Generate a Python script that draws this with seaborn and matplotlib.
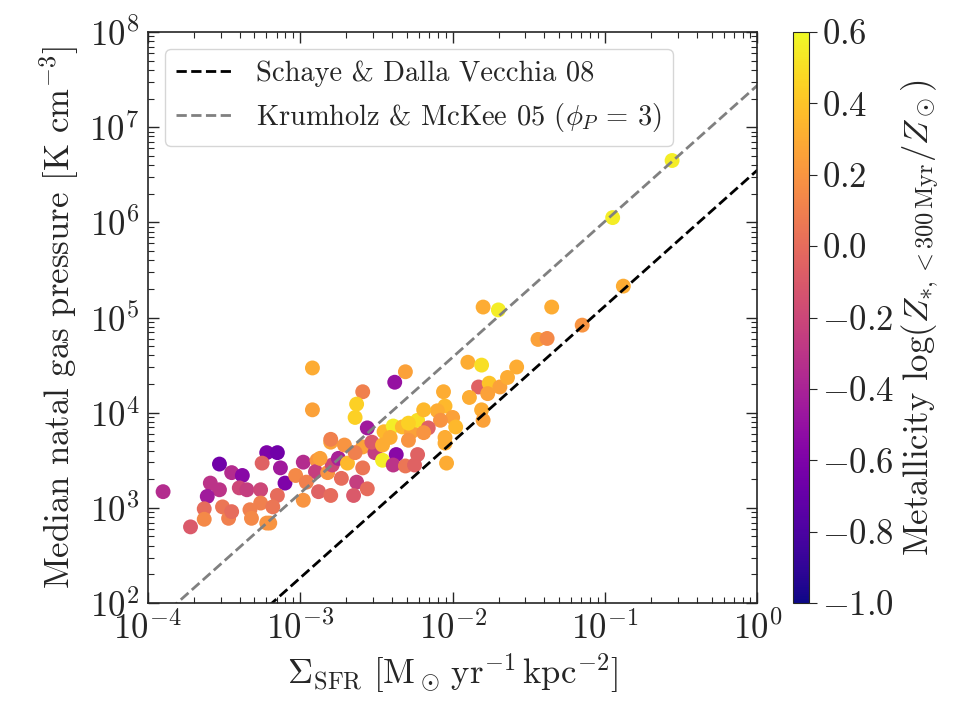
import numpy as np
import pandas as pd
import seaborn as sns
import matplotlib
matplotlib.use("Agg")
import matplotlib.pyplot as plt
from matplotlib.colors import Normalize
from matplotlib.cm import ScalarMappable
from matplotlib.ticker import FuncFormatter

# log10 of Sigma_SFR [Msun/yr/kpc^2]
log_sigma_sfr = [
    -3.90, -3.72, -3.53, -3.45, -3.38, -3.59, -3.53, -3.61, -3.40, -3.35,
    -3.26, -3.22, -3.25, -3.63, -3.63, -3.51, -3.47, -3.45, -3.33, -3.32,
    -3.26, -3.22, -3.15, -3.13, -3.10, -3.03, -2.98, -2.89, -2.90, -2.82,
    -2.96, -2.88, -2.80, -2.98, -3.15, -3.18, -3.20, -2.79, -2.73, -2.63,
    -2.56, -2.65, -2.75, -2.69, -2.59, -2.80, -2.71, -2.59, -2.51, -2.46,
    -2.64, -2.59, -2.63, -2.64, -2.56, -2.80, -2.53, -2.45, -2.39, -2.41,
    -2.33, -2.27, -2.23, -2.29, -2.46, -2.37, -2.39, -2.31, -2.25, -2.23,
    -2.87, -2.92, -2.92, -2.31, -2.38, -1.90, -1.81, -1.83, -1.76, -1.69,
    -1.64, -1.77, -1.89, -2.06, -2.05, -2.10, -2.19, -2.29, -2.00, -2.08,
    -2.16, -1.98, -1.81, -1.80, -2.19, -2.05, -2.05, -2.04, -1.80, -1.70,
    -1.35, -1.44, -1.38, -1.15, -0.56, -0.95, -0.88, -1.58,
]

# log10 of median natal gas pressure [K cm^-3]
log_pressure = [
    3.17, 2.80, 3.46, 3.37, 3.34, 3.26, 3.19, 3.12, 3.21, 3.19,
    3.19, 3.58, 3.47, 2.99, 2.88, 3.01, 2.89, 2.96, 2.98, 2.89,
    3.05, 2.84, 3.58, 3.42, 3.26, 3.34, 3.48, 3.50, 3.38, 3.37,
    3.27, 3.17, 3.13, 3.08, 3.13, 3.01, 2.84, 3.45, 3.31, 3.27,
    3.20, 3.13, 3.52, 3.47, 3.42, 3.69, 3.66, 3.64, 3.58, 3.50,
    3.58, 4.22, 4.09, 3.95, 3.84, 3.72, 3.69, 3.80, 3.86, 3.74,
    3.85, 3.80, 3.92, 3.71, 3.66, 3.56, 3.45, 3.44, 3.45, 3.56,
    3.52, 4.47, 4.03, 4.43, 4.32, 4.53, 4.50, 4.27, 4.31, 4.27,
    4.37, 4.20, 4.16, 4.22, 4.07, 4.02, 4.03, 3.89, 3.95, 3.92,
    3.84, 3.85, 4.03, 3.92, 3.79, 3.74, 3.68, 3.47, 5.11, 5.08,
    5.11, 4.77, 4.78, 4.92, 6.65, 6.05, 5.33, 4.48,
]

# metallicity log(Z*/Zsun), from the marker colours
metallicity = [
    -0.35, -0.10, -0.65, -0.35, -0.55, -0.30, -0.30, -0.45, -0.20, -0.25,
    -0.20, -0.60, -0.05, 0.00, 0.15, 0.05, 0.10, 0.00, 0.10, 0.15,
    0.10, 0.20, -0.65, -0.45, -0.60, 0.15, -0.35, 0.20, -0.25, 0.20,
    0.10, -0.05, 0.00, 0.20, 0.00, 0.05, 0.20, -0.20, 0.00, -0.25,
    0.00, -0.10, -0.40, 0.35, 0.05, 0.25, 0.20, 0.25, -0.25, 0.55,
    0.10, 0.10, 0.45, 0.45, -0.45, 0.10, -0.10, 0.35, 0.55, 0.30,
    0.35, 0.25, 0.50, 0.20, 0.30, -0.55, -0.30, 0.05, -0.05, -0.05,
    0.25, 0.30, 0.25, 0.25, -0.50, 0.30, 0.50, -0.05, 0.40, 0.25,
    0.30, 0.25, 0.30, 0.30, 0.35, 0.30, 0.35, 0.45, 0.25, 0.20,
    -0.05, 0.35, 0.30, 0.25, 0.20, 0.30, 0.30, 0.30, 0.30, 0.55,
    0.30, 0.25, 0.15, 0.20, 0.55, 0.55, 0.30, 0.30,
]

# model relations: P = 10**amp * Sigma_SFR**(1/0.7)
slope = 1 / 0.7
log_amp_schaye = 6.55
log_amp_krumholz = 7.44

df = pd.DataFrame({
    "sfr": 10 ** np.array(log_sigma_sfr),
    "pressure": 10 ** np.array(log_pressure),
    "Z": metallicity,
})

sns.set_style("ticks")
plt.rcParams["font.family"] = "serif"
plt.rcParams["font.serif"] = ["cmr10", "DejaVu Serif"]
plt.rcParams["mathtext.fontset"] = "cm"
plt.rcParams["axes.unicode_minus"] = False
plt.rcParams["axes.formatter.use_mathtext"] = True

fig = plt.figure(figsize=(9.6, 7.2), dpi=100)
ax = fig.add_axes([0.154, 0.1625, 0.635, 0.793])
cax = fig.add_axes([0.826, 0.1625, 0.017, 0.793])

vmin, vmax = -1.0, 0.6
sns.scatterplot(data=df, x="sfr", y="pressure", hue="Z", palette="plasma",
                hue_norm=(vmin, vmax), s=115, edgecolor="none", legend=False, ax=ax)

xs = np.logspace(-4, 0, 200)
ax.plot(xs, 10 ** log_amp_schaye * xs ** slope, ls="--", color="black", lw=2,
        label="Schaye & Dalla Vecchia 08")
ax.plot(xs, 10 ** log_amp_krumholz * xs ** slope, ls="--", color="gray", lw=2,
        label=r"Krumholz & McKee 05 ($\phi_P\,=\,3$)")

ax.set_xscale("log")
ax.set_yscale("log")
ax.set_xlim(1e-4, 1)
ax.set_ylim(1e2, 1e8)
ax.set_xlabel(r"$\Sigma_{\mathrm{SFR}}\ [\mathrm{M}_\odot\,\mathrm{yr}^{-1}\,\mathrm{kpc}^{-2}]$", fontsize=25)
ax.set_ylabel(r"Median natal gas pressure [K cm$^{-3}$]", fontsize=25, labelpad=6)
ax.tick_params(which="both", direction="in", top=True, right=True, labelsize=25)
ax.tick_params(which="major", length=8, width=1, pad=6)
ax.tick_params(which="minor", length=4, width=0.8)
for sp in ax.spines.values():
    sp.set_linewidth(1.2)

leg = ax.legend(loc="upper left", fontsize=20.5, frameon=True, handlelength=2.0,
                borderaxespad=0.6)
leg.get_frame().set_edgecolor("#cccccc")

sm = ScalarMappable(norm=Normalize(vmin, vmax), cmap="plasma")
cb = fig.colorbar(sm, cax=cax)
cb.set_ticks(np.arange(-1.0, 0.61, 0.2))
cb.ax.yaxis.set_major_formatter(FuncFormatter(lambda v, p: f"${round(v, 1) + 0.0:.1f}$"))
cb.ax.tick_params(labelsize=25, length=6)
cb.set_label(r"Metallicity $\log(Z_{*,<300\,\mathrm{Myr}}/Z_\odot)$", fontsize=25)

fig.savefig("out.png", dpi=100)
